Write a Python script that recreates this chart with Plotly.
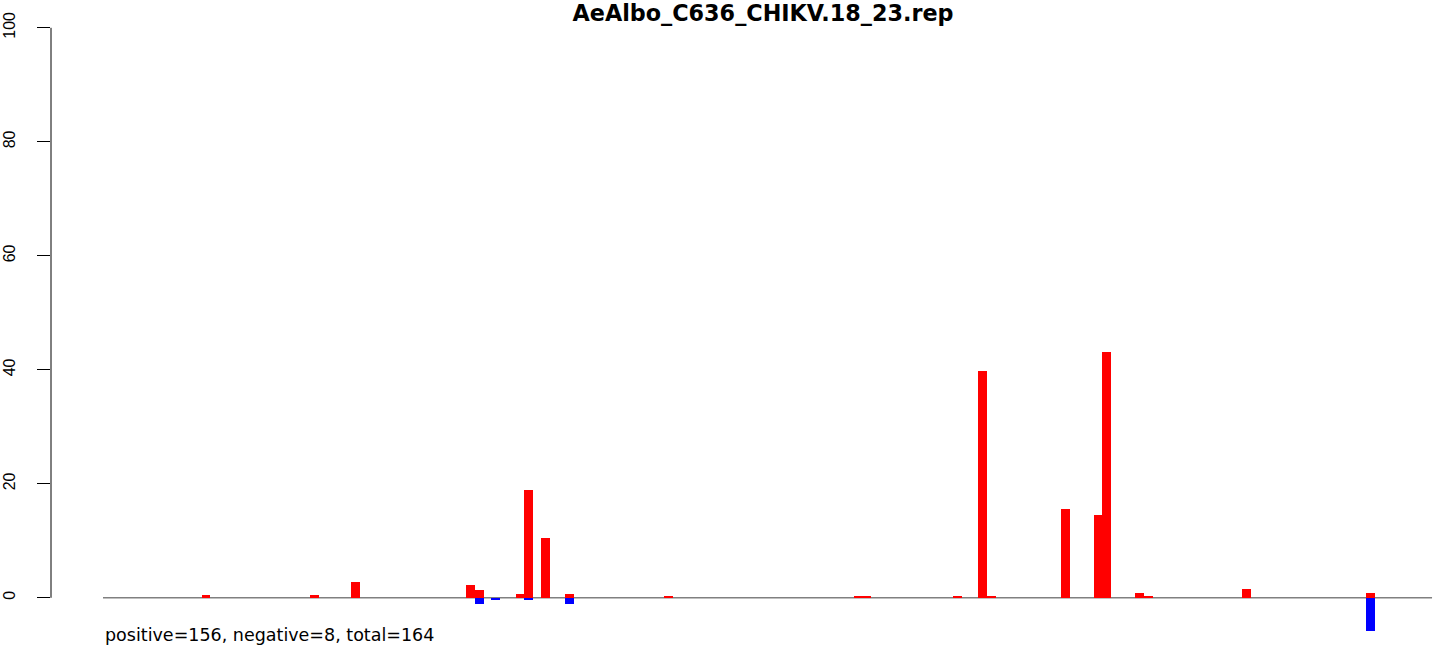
import plotly.graph_objects as go

# ---- data (positions in bins along the sequence; values in %) ----
title_text = "AeAlbo_C636_CHIKV.18_23.rep"
summary_text = "positive=156, negative=8, total=164"

pos_positions = [11.85, 24.85, 29.77, 43.58, 44.66, 49.58, 50.54, 52.58, 55.46,
                 67.35, 90.16, 91.12, 102.04, 105.04, 106.12, 115.0, 118.97,
                 119.93, 123.89, 124.97, 136.73, 151.62]
pos_values = [0.5, 0.5, 2.8, 2.3, 1.4, 0.7, 19.0, 10.5, 0.7,
              0.2, 0.2, 0.2, 0.2, 39.8, 0.2, 15.6, 14.6,
              43.2, 0.9, 0.2, 1.6, 0.9]

neg_positions = [44.66, 46.58, 50.54, 55.46, 151.62]
neg_values = [-1.05, -0.35, -0.35, -1.05, -5.8]

seq_start = 0.0
seq_end = 159.55
y_ticks = [0, 20, 40, 60, 80, 100]

# ---- figure ----
W, H = 1444, 658
TOP, BOTTOM = 5.2, 632.2          # plot area in pixels
fig = go.Figure()
fig.add_trace(go.Bar(x=pos_positions, y=pos_values, width=1.05, offset=0,
                     marker=dict(color="#FF0000", line=dict(width=0)),
                     showlegend=False, hoverinfo="x+y"))
fig.add_trace(go.Bar(x=neg_positions, y=neg_values, width=1.05, offset=0,
                     marker=dict(color="#0000FF", line=dict(width=0)),
                     showlegend=False, hoverinfo="x+y"))

# baseline along the sequence
fig.add_shape(type="line", xref="x", yref="y", x0=seq_start, x1=seq_end, y0=0, y1=0,
              line=dict(color="#808080", width=1.5), layer="below")
# y axis line only from 0 to 100 (R style)
fig.add_shape(type="line", xref="paper", yref="y", x0=0, x1=0, y0=y_ticks[0], y1=y_ticks[-1],
              line=dict(color="black", width=1))

fig.add_annotation(text=summary_text, xref="x", yref="paper", x=seq_start,
                   y=(BOTTOM - 635.5) / (BOTTOM - TOP),
                   xanchor="left", yanchor="middle", showarrow=False,
                   font=dict(family="DejaVu Sans", size=17.5, color="black"))

fig.update_layout(
    width=W, height=H,
    margin=dict(l=51, r=0, t=TOP, b=H - BOTTOM, pad=0, autoexpand=False),
    paper_bgcolor="white", plot_bgcolor="white",
    barmode="overlay", bargap=0,
    title=dict(text="<b>" + title_text + "</b>", x=763 / W, xref="container", xanchor="center",
               y=1 - 13.5 / H, yref="container", yanchor="middle",
               font=dict(family="DejaVu Sans", size=22.3, color="black")),
    xaxis=dict(range=[-52 / 8.33, (W - 51 - 52) / 8.33], visible=False, showgrid=False,
               zeroline=False, automargin=False),
    yaxis=dict(range=[-6, 104], tickvals=y_ticks, ticktext=[str(v) for v in y_ticks],
               ticks="outside", ticklen=13, tickwidth=1, tickcolor="black",
               tickangle=-90, showline=False, showgrid=False, zeroline=False,
               ticklabelstandoff=16, automargin=False,
               tickfont=dict(family="Liberation Sans, Arial", size=16, color="black")),
    font=dict(family="Liberation Sans, Arial"),
)

fig.write_html("out.html", config={"displayModeBar": False},
               post_script="document.body.style.margin='0';document.body.style.padding='0';")
